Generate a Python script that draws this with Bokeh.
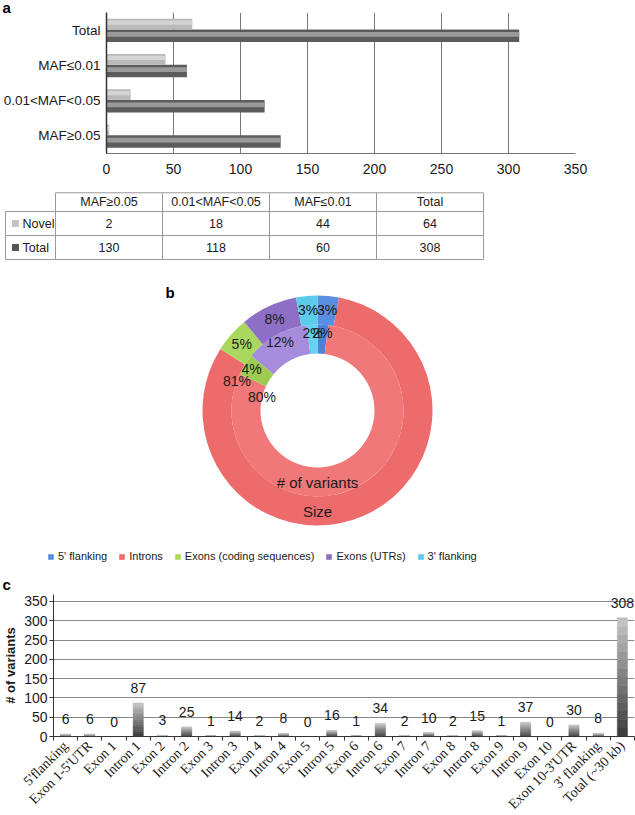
import math
from bokeh.plotting import figure
from bokeh.models import (FactorRange, Range1d, LinearAxis, FixedTicker,
                          SingleIntervalTicker, ColumnDataSource, LabelSet, Legend,
                          LegendItem)
from bokeh.layouts import column
from bokeh.transform import dodge
from bokeh.core.properties import value
from bokeh.embed import file_html
from bokeh.resources import INLINE

SANS = "Liberation Sans"
SERIF = "Liberation Serif"
INK = "#1a1a1a"
W = 635

# ---------------- data ----------------
# panel a
maf_cats = ["MAF≥0.05", "0.01<MAF<0.05", "MAF≤0.01", "Total"]
novel_counts = [2, 18, 44, 64]
total_counts = [130, 118, 60, 308]
series_names = ["Novel", "Total"]

# panel b
regions = ["5' flanking", "Introns", "Exons (coding sequences)", "Exons (UTRs)", "3' flanking"]
size_pct = [3, 81, 5, 8, 3]
variants_pct = [2, 80, 4, 12, 2]
ring_names = ["# of variants", "Size"]

# panel c
segments = ["5'flanking", "Exon 1-5'UTR", "Exon 1", "Intron 1", "Exon 2", "Intron 2",
            "Exon 3", "Intron 3", "Exon 4", "Intron 4", "Exon 5", "Intron 5", "Exon 6",
            "Intron 6", "Exon 7", "Intron 7", "Exon 8", "Intron 8", "Exon 9", "Intron 9",
            "Exon 10", "Exon 10-3'UTR", "3' flanking", "Total (~30 kb)"]
seg_counts = [6, 6, 0, 87, 3, 25, 1, 14, 2, 8, 0, 16, 1, 34, 2, 10, 2, 15, 1, 37, 0, 30, 8, 308]


def base_fig(**kw):
    p = figure(output_backend="svg", toolbar_location=None, **kw)
    p.outline_line_color = None
    p.background_fill_color = "white"
    p.border_fill_color = "white"
    try:
        p.frame_align = False
    except AttributeError:
        pass
    return p


def letter_title(p, txt, offset, standoff):
    p.title.text = txt
    p.title.align = "left"
    p.title.offset = offset
    p.title.standoff = standoff
    p.title.text_font = SANS
    p.title.text_font_size = "15px"
    p.title.text_font_style = "bold"
    p.title.text_color = "black"


# ---------------- panel a ----------------
pa = base_fig(width=W, height=178, y_range=FactorRange(*maf_cats), x_range=Range1d(0, 350),
              min_border_left=106, min_border_right=60, min_border_top=0, min_border_bottom=25)
letter_title(pa, "a", -104, -7)
srca = ColumnDataSource(dict(cat=maf_cats, novel=novel_counts, total=total_counts))
pa.hbar(y=dodge("cat", -0.16, range=pa.y_range), left=0, right="total", height=0.36,
        fill_color="#5c5c5c", line_color=None, source=srca)
pa.hbar(y=dodge("cat", -0.12, range=pa.y_range), left=0, right="total", height=0.13,
        fill_color="#9a9a9a", line_color=None, source=srca)
pa.hbar(y=dodge("cat", 0.17, range=pa.y_range), left=0, right="novel", height=0.30,
        fill_color="#b9b9b9", line_color=None, source=srca)
pa.hbar(y=dodge("cat", 0.21, range=pa.y_range), left=0, right="novel", height=0.12,
        fill_color="#d4d4d4", line_color=None, source=srca)
pa.xaxis.ticker = SingleIntervalTicker(interval=50)
pa.xaxis.major_tick_out = 0
pa.xaxis.major_tick_in = 0
pa.xaxis.minor_tick_line_color = None
pa.xaxis.axis_line_color = "#777777"
pa.xaxis.major_label_text_font = SANS
pa.xaxis.major_label_text_font_size = "14px"
pa.xaxis.major_label_text_color = INK
pa.xaxis.major_label_standoff = 6
pa.yaxis.major_tick_out = 0
pa.yaxis.major_tick_in = 0
pa.yaxis.axis_line_color = "#333333"
pa.yaxis.axis_line_width = 1.5
pa.yaxis.major_label_text_font = SANS
pa.yaxis.major_label_text_font_size = "13.5px"
pa.yaxis.major_label_text_color = INK
pa.yaxis.major_label_standoff = 6
pa.xgrid.grid_line_color = "#777777"
pa.ygrid.grid_line_color = None

# ---------------- table ----------------
unit = 107.0
left0 = -55 / unit
pt = base_fig(width=W, height=90, x_range=Range1d(left0, left0 + W / unit),
              y_range=Range1d(2.375, -1.375), x_axis_location=None, y_axis_location=None,
              min_border=0)
pt.xgrid.grid_line_color = None
pt.ygrid.grid_line_color = None
ncol = len(maf_cats)
hdr_h = 0.78
lab_left = -50 / unit
pt.quad(left=list(range(ncol)), right=[i + 1 for i in range(ncol)], top=[-hdr_h] * ncol,
        bottom=[0] * ncol, fill_color=None, line_color="#999999", line_width=1)
rows = [novel_counts, total_counts]
for r, vals in enumerate(rows):
    pt.quad(left=[lab_left] + list(range(ncol)), right=[0] + [i + 1 for i in range(ncol)],
            top=[r] * (ncol + 1), bottom=[r + 1] * (ncol + 1), fill_color=None,
            line_color="#999999", line_width=1)
    pt.text(x=[i + 0.5 for i in range(ncol)], y=[r + 0.5] * ncol, text=[str(v) for v in vals],
            text_font=value(SANS), text_font_size="12.5px", text_color=INK,
            text_align="center", text_baseline="middle")
pt.text(x=[i + 0.5 for i in range(ncol)], y=[-hdr_h / 2] * ncol, text=maf_cats,
        text_font=value(SANS), text_font_size="12.5px", text_color=INK,
        text_align="center", text_baseline="middle")
pt.scatter(x=[lab_left + 0.093] * 2, y=[0.5, 1.5], marker="square", size=7,
           fill_color=["#c4c4c4", "#555555"], line_color=None)
pt.text(x=[lab_left + 0.159] * 2, y=[0.5, 1.5], text=series_names, text_font=value(SANS),
        text_font_size="12.5px", text_color=INK, text_align="left", text_baseline="middle")

# ---------------- panel b (donut) ----------------
pb = base_fig(width=W, height=302, x_range=Range1d(-317, 318), y_range=Range1d(-160, 142),
              x_axis_location=None, y_axis_location=None, min_border=0)
pb.xgrid.grid_line_color = None
pb.ygrid.grid_line_color = None

r_hole, r_mid, r_out = 57, 86, 115
outer_colors = ["#5a8ee0", "#ee6b6b", "#a9d85e", "#8d70c6", "#5ccbec"]
inner_colors = ["#4f80d8", "#f07878", "#9ccd52", "#a68ddb", "#63d3f1"]


def ring(pcts, r_in, r_o, colors, r_lab):
    tot = float(sum(pcts))
    cum = 0.0
    th0, th1 = [], []
    for v in pcts:
        th0.append(2 * math.pi * cum / tot)
        cum += v
        th1.append(2 * math.pi * cum / tot)
    src = ColumnDataSource(dict(start=[math.pi / 2 - t for t in th0],
                                end=[math.pi / 2 - t for t in th1], color=colors))
    rend = pb.annular_wedge(x=0, y=0, inner_radius=r_in, outer_radius=r_o, start_angle="start",
                            end_angle="end", direction="clock", fill_color="color",
                            line_color=None, source=src)
    big = pcts.index(max(pcts))
    lx, ly = [], []
    for i in range(len(pcts)):
        if i == big:
            t = th1[i] - math.radians(12)
            rr = r_in
        else:
            t = (th0[i] + th1[i]) / 2
            rr = r_lab
        lx.append(rr * math.sin(t))
        ly.append(rr * math.cos(t))
    pb.text(x=lx, y=ly, text=[f"{v}%" for v in pcts], text_font=value(SANS),
            text_font_size="14px", text_color=INK, text_align="center", text_baseline="middle")
    return rend


inner_r = ring(variants_pct, r_hole, r_mid, inner_colors, 78)
outer_r = ring(size_pct, r_mid, r_out, outer_colors, 101)
pb.text(x=[0, 0], y=[-(r_hole + r_mid) / 2, -(r_mid + r_out) / 2], text=ring_names,
        text_font=value(SANS), text_font_size="15px", text_color=INK,
        text_align="center", text_baseline="middle")
pb.text(x=[-152], y=[118], text=["b"], text_font=value(SANS), text_font_size="15px",
        text_font_style="bold", text_color="black", text_align="left", text_baseline="middle")
legend = Legend(items=[LegendItem(label=regions[i], renderers=[outer_r], index=i)
                       for i in range(len(regions))],
                orientation="horizontal", location=(47, 7), glyph_width=7, glyph_height=7,
                label_standoff=4, spacing=11, padding=0, margin=0, border_line_color=None,
                background_fill_alpha=0, label_text_font=SANS, label_text_font_size="11px",
                label_text_color=INK, label_height=14)
pb.add_layout(legend)

# ---------------- panel c ----------------
nseg = len(segments)
xc = [i + 0.5 for i in range(nseg)]
pc = base_fig(frame_width=581, frame_height=142, x_range=Range1d(0, nseg),
              y_range=Range1d(0, 368), x_axis_location=None, min_border_left=53,
              min_border_right=1, min_border_top=24, min_border_bottom=78)
letter_title(pc, "c", -51, 4)
N = 14
dark = (0x3a, 0x3a, 0x3a)
light = (0xc6, 0xc6, 0xc6)
for k in range(N):
    f = (k + 0.5) / N
    col = "#%02x%02x%02x" % tuple(int(dark[j] + (light[j] - dark[j]) * f) for j in range(3))
    pc.vbar(x=xc, bottom=[v * k / N for v in seg_counts],
            top=[v * (k + 1) / N for v in seg_counts], width=0.42, fill_color=col,
            line_color=col, line_width=0.5)
srcc = ColumnDataSource(dict(x=xc, y=seg_counts, t=[str(v) for v in seg_counts]))
pc.add_layout(LabelSet(x="x", y="y", text="t", y_offset=15, source=srcc,
                       text_font=value(SANS), text_font_size="14px", text_color=INK,
                       text_align="center", text_baseline="middle"))
cat_axis = LinearAxis(ticker=FixedTicker(ticks=xc, minor_ticks=list(range(nseg + 1))),
                      major_label_overrides={x: s for x, s in zip(xc, segments)},
                      major_label_orientation=math.pi / 4, axis_line_color="#333333",
                      major_tick_line_color=None, minor_tick_line_color="#333333",
                      minor_tick_out=4, minor_tick_in=0, major_tick_out=4, major_tick_in=0,
                      major_label_text_font=SERIF, major_label_text_font_size="14px",
                      major_label_text_color=INK, major_label_standoff=3)
pc.add_layout(cat_axis, "below")
pc.yaxis.ticker = SingleIntervalTicker(interval=50)
pc.yaxis.major_tick_out = 4
pc.yaxis.major_tick_in = 0
pc.yaxis.minor_tick_line_color = None
pc.yaxis.axis_line_color = "#333333"
pc.yaxis.major_tick_line_color = "#333333"
pc.yaxis.major_label_text_font = SANS
pc.yaxis.major_label_text_font_size = "14px"
pc.yaxis.major_label_text_color = INK
pc.yaxis.major_label_standoff = 2
pc.yaxis.axis_label = "# of variants"
pc.yaxis.axis_label_text_font = SANS
pc.yaxis.axis_label_text_font_size = "13px"
pc.yaxis.axis_label_text_font_style = "bold"
pc.yaxis.axis_label_text_color = INK
pc.yaxis.axis_label_standoff = 3
pc.ygrid.grid_line_color = "#888888"
pc.ygrid.ticker = SingleIntervalTicker(interval=50)
pc.xgrid.grid_line_color = None

layout = column(pa, pt, pb, pc, spacing=0)
open("out.html", "w").write(file_html(layout, INLINE))
